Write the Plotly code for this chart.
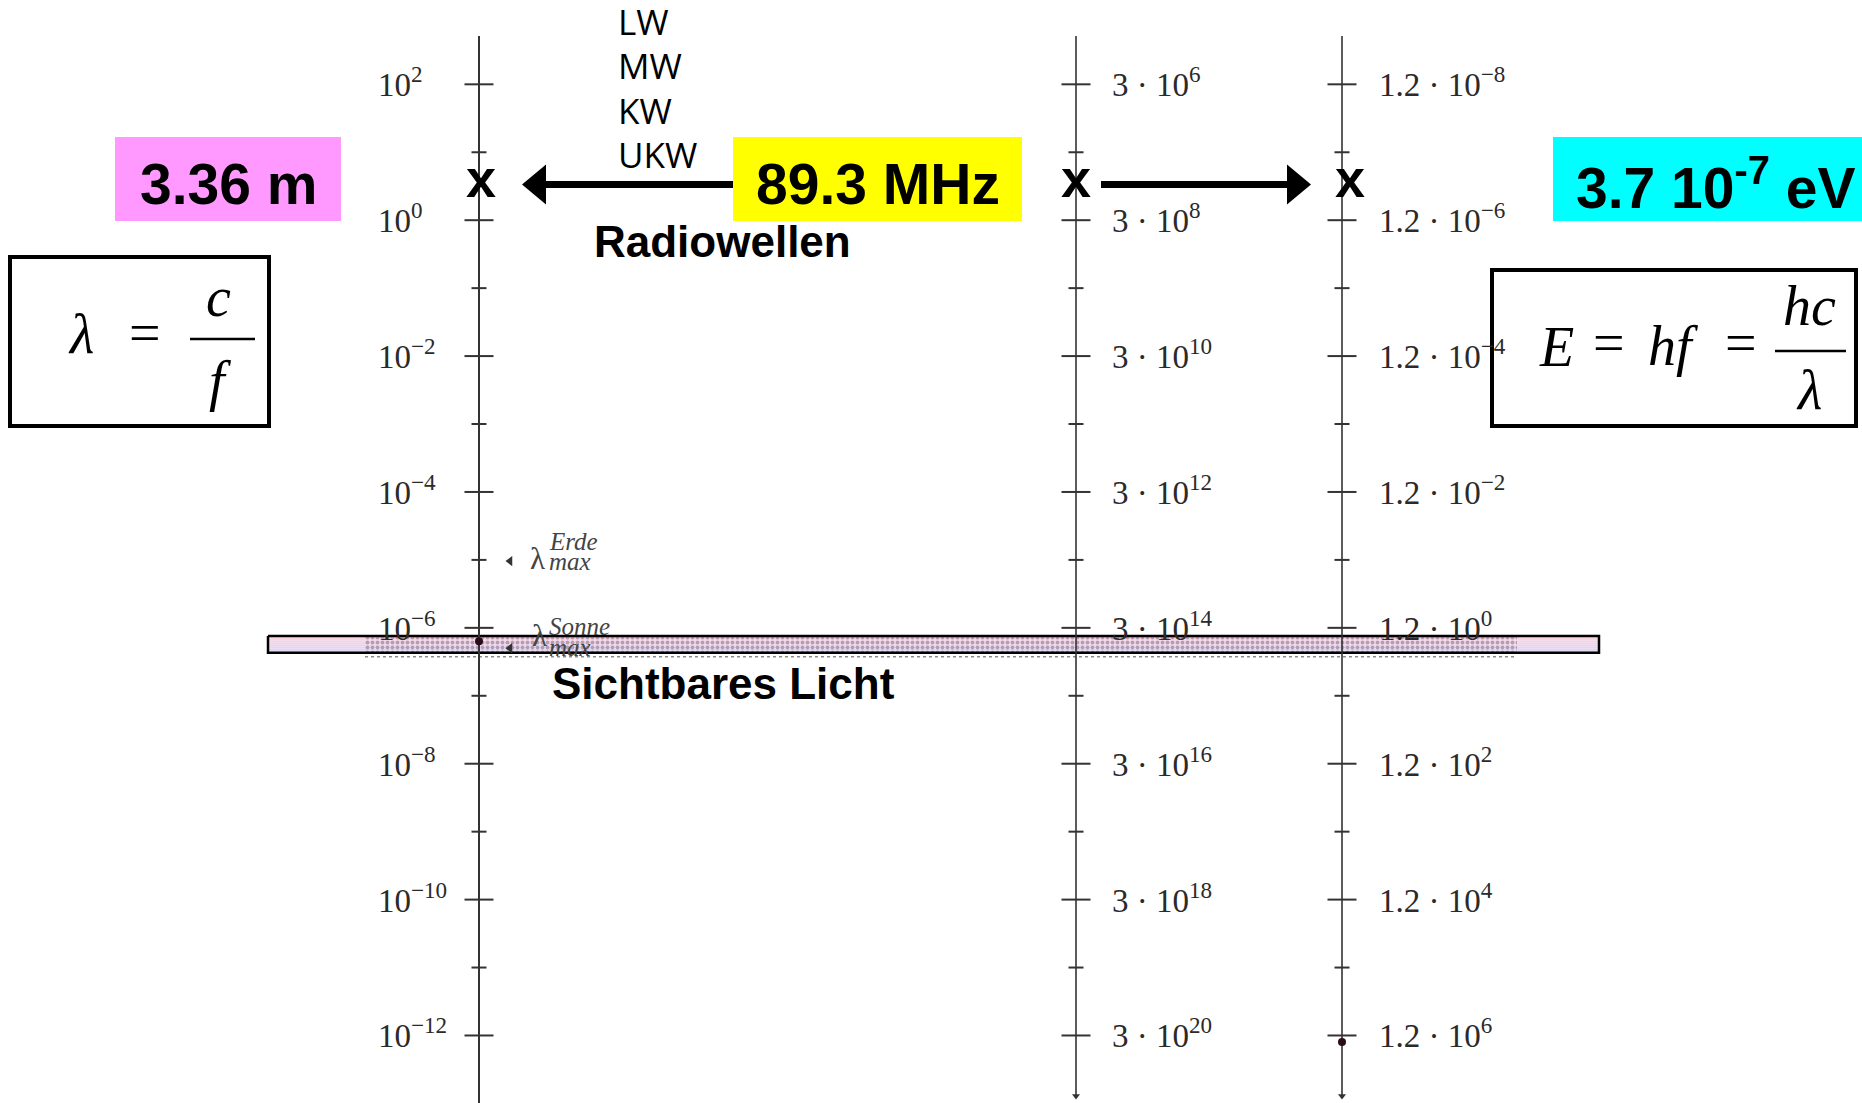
import math
import plotly.graph_objects as go

# ---------------------------------------------------------------------------
# Scale data: wavelength decades (m) with the matching frequency / energy
# ---------------------------------------------------------------------------
lambda_major_exp = [2, 0, -2, -4, -6, -8, -10, -12]
lambda_minor_exp = [1, -1, -3, -5, -7, -9, -11]
lambda_labels = ["10<sup>2</sup>", "10<sup>0</sup>", "10<sup>−2</sup>", "10<sup>−4</sup>",
                 "10<sup>−6</sup>", "10<sup>−8</sup>", "10<sup>−10</sup>", "10<sup>−12</sup>"]
freq_labels = ["3 · 10<sup>6</sup>", "3 · 10<sup>8</sup>", "3 · 10<sup>10</sup>", "3 · 10<sup>12</sup>",
               "3 · 10<sup>14</sup>", "3 · 10<sup>16</sup>", "3 · 10<sup>18</sup>", "3 · 10<sup>20</sup>"]
energy_labels = ["1.2 · 10<sup>−8</sup>", "1.2 · 10<sup>−6</sup>", "1.2 · 10<sup>−4</sup>",
                 "1.2 · 10<sup>−2</sup>", "1.2 · 10<sup>0</sup>", "1.2 · 10<sup>2</sup>",
                 "1.2 · 10<sup>4</sup>", "1.2 · 10<sup>6</sup>"]

radio_bands = ["LW", "MW", "KW", "UKW"]

# FM station example
fm_freq_mhz = 89.3
fm_wavelength_m = 3.36
fm_energy_ev = 3.7e-7

visible_m = [4.3e-7, 7.6e-7]      # visible light band
wien_earth_m = 9.6e-6             # λ_max of the Earth
wien_sun_m = 5.0e-7               # λ_max of the Sun
laser_m = 6.33e-7                 # point on the wavelength scale
gamma_ev = 1.5e6                  # point on the energy scale
HC_EV_M = 1.2e-6                  # energy scale: E = 1.2e-6 eV·m / λ

# ---------------------------------------------------------------------------
# Layout geometry (x in pixels, y in log10(λ / m))
# ---------------------------------------------------------------------------
W, H = 1862, 1103
PX_PER_DEC = 67.94
Y0_PX = 220.2                     # pixel row of λ = 1 m


def row(p):
    """pixel row -> y coordinate"""
    return (Y0_PX - p) / PX_PER_DEC


Y_RANGE = [row(H), row(0)]
AX_LAMBDA, AX_FREQ, AX_ENERGY = 479, 1076, 1342
AXIS_COLOR = "#333333"
SERIF = "Liberation Serif, Times New Roman, serif"
SANS = "Liberation Sans, Arial, sans-serif"

fig = go.Figure()
shapes = []
ann = []

# --- visible light band (drawn first, under the axes) ---
e_lo = math.log10(visible_m[0])
e_hi = math.log10(visible_m[1])
band_x0, band_x1 = 268, 1599
n_strips = 8
top_rgb = (255, 212, 226)
bot_rgb = (218, 212, 244)
for i in range(n_strips):
    t = i / (n_strips - 1)
    c = tuple(round(a + (b - a) * t) for a, b in zip(top_rgb, bot_rgb))
    y1 = e_hi - (e_hi - e_lo) * i / n_strips
    y0 = e_hi - (e_hi - e_lo) * (i + 1) / n_strips
    shapes.append(dict(type="rect", xref="x", yref="y", x0=band_x0, x1=band_x1, y0=y0, y1=y1,
                       fillcolor=f"rgb{c}", line=dict(width=0), layer="below"))

dot_x0, dot_x1 = 365, 1517
fig.add_trace(go.Scatter(
    x=[dot_x0, dot_x1, dot_x1, dot_x0, dot_x0], y=[e_hi, e_hi, e_lo, e_lo, e_hi],
    mode="lines", fill="toself", line=dict(width=0), fillcolor="rgba(0,0,0,0)",
    fillpattern=dict(shape=".", fgcolor="#7e5f78", bgcolor="rgba(0,0,0,0)", size=5, solidity=0.45),
    hoverinfo="skip"))
fig.add_trace(go.Scatter(
    x=[dot_x0, dot_x1], y=[e_lo - 4 / PX_PER_DEC] * 2, mode="lines",
    line=dict(color="#8a8a8a", width=1.5, dash="dot"), hoverinfo="skip"))
fig.add_trace(go.Scatter(
    x=[band_x0, band_x1, band_x1, band_x0, band_x0], y=[e_hi, e_hi, e_lo, e_lo, e_hi],
    mode="lines", line=dict(color="black", width=2.5), hoverinfo="skip"))

# --- the three vertical scales ---
axis_top = row(36)
fig.add_trace(go.Scatter(x=[AX_LAMBDA, AX_LAMBDA], y=[axis_top, Y_RANGE[0]], mode="lines",
                         line=dict(color=AXIS_COLOR, width=2), hoverinfo="skip"))
for ax in (AX_FREQ, AX_ENERGY):
    fig.add_trace(go.Scatter(x=[ax, ax], y=[axis_top, row(1096)], mode="lines",
                             line=dict(color=AXIS_COLOR, width=1.6), hoverinfo="skip"))
fig.add_trace(go.Scatter(x=[AX_FREQ, AX_ENERGY], y=[row(1096)] * 2, mode="markers",
                         marker=dict(symbol="triangle-down", size=7, color=AXIS_COLOR),
                         hoverinfo="skip"))


def tick_segments(ax, exps, half):
    xs, ys = [], []
    for e in exps:
        xs += [ax - half, ax + half, None]
        ys += [e, e, None]
    return xs, ys


for ax in (AX_LAMBDA, AX_FREQ, AX_ENERGY):
    xs, ys = tick_segments(ax, lambda_major_exp, 14.5)
    fig.add_trace(go.Scatter(x=xs, y=ys, mode="lines", line=dict(color=AXIS_COLOR, width=2),
                             hoverinfo="skip"))
    xs, ys = tick_segments(ax, lambda_minor_exp, 7.5)
    fig.add_trace(go.Scatter(x=xs, y=ys, mode="lines", line=dict(color=AXIS_COLOR, width=2),
                             hoverinfo="skip"))

tick_font = dict(family=SERIF, size=33, color="#2a2a2a")
for e, lam, fr, en in zip(lambda_major_exp, lambda_labels, freq_labels, energy_labels):
    ann.append(dict(x=376, y=e, text=lam, xanchor="left", yanchor="middle", yshift=2,
                    font=tick_font, showarrow=False))
    ann.append(dict(x=AX_FREQ + 34, y=e, text=fr, xanchor="left", yanchor="middle", yshift=2,
                    font=tick_font, showarrow=False))
    ann.append(dict(x=AX_ENERGY + 35, y=e, text=en, xanchor="left", yanchor="middle", yshift=2,
                    font=tick_font, showarrow=False))

# --- marked points on the scales ---
e_gamma = math.log10(HC_EV_M / gamma_ev)
fig.add_trace(go.Scatter(x=[AX_LAMBDA, AX_ENERGY], y=[math.log10(laser_m), e_gamma],
                         mode="markers", marker=dict(size=8, color="#2b0b18"), hoverinfo="skip"))

# λ_max of Earth and Sun
e_earth = math.log10(wien_earth_m)
e_sun = math.log10(wien_sun_m)
fig.add_trace(go.Scatter(x=[510, 510], y=[e_earth, e_sun], mode="markers",
                         marker=dict(symbol="triangle-left", size=9, color="#333333"),
                         hoverinfo="skip"))
lam_font = dict(family=SERIF, size=31, color="#444444")
idx_font = dict(family=SERIF, size=25, color="#444444")
# (value, label, x of λ, λ shift, upper index shift, lower index shift)
for e, name, xl, s_lam, s_up, s_low in ((e_earth, "Erde", 537, 3, 20, 0),
                                        (e_sun, "Sonne", 539, 13, 22, 1)):
    ann.append(dict(x=xl, y=e, text="λ", xanchor="center", yanchor="middle", yshift=s_lam,
                    font=lam_font, showarrow=False))
    ann.append(dict(x=547, y=e, text=f"<i>{name}</i>", xanchor="left", yanchor="middle",
                    yshift=s_up, font=idx_font, showarrow=False))
    ann.append(dict(x=547, y=e, text="<i>max</i>", xanchor="left", yanchor="middle",
                    yshift=s_low, font=idx_font, showarrow=False))

# --- FM example: value boxes, crosses and conversion arrows ---
e_fm = math.log10(fm_wavelength_m)
box_y0, box_y1 = row(221), row(137)
e_mant = fm_energy_ev / 10 ** math.floor(math.log10(fm_energy_ev))
e_exp = math.floor(math.log10(fm_energy_ev))
value_boxes = [
    (115, 341, "#FF99FF", f"{fm_wavelength_m:.2f} m"),
    (733, 1022, "#FFFF00", f"{fm_freq_mhz:g} MHz"),
    (1553, 1862, "#00FFFF", f"{e_mant:.1f} 10<sup>{e_exp}</sup> eV"),
]
for x0, x1, col, txt in value_boxes:
    shapes.append(dict(type="rect", xref="x", yref="y", x0=x0, x1=x1, y0=box_y0, y1=box_y1,
                       fillcolor=col, line=dict(width=0), layer="above"))
    ann.append(dict(x=(x0 + x1) / 2 + (8 if col == "#00FFFF" else 0), y=e_fm, text=f"<b>{txt}</b>",
                    xanchor="center", yanchor="middle", yshift=0,
                    font=dict(family=SANS, size=57, color="black"), showarrow=False))

for xm in (AX_LAMBDA + 2, AX_FREQ, AX_ENERGY + 8):
    ann.append(dict(x=xm, y=e_fm, text="<b>x</b>", xanchor="center", yanchor="middle", yshift=6,
                    font=dict(family=SANS, size=54, color="black"), showarrow=False))

dh = 20 / PX_PER_DEC
shapes.append(dict(type="line", xref="x", yref="y", x0=733, x1=543, y0=e_fm, y1=e_fm,
                   line=dict(color="black", width=7), layer="below"))
shapes.append(dict(type="path", xref="x", yref="y",
                   path=f"M 522,{e_fm} L 546,{e_fm + dh} L 546,{e_fm - dh} Z",
                   fillcolor="black", line=dict(width=0)))
shapes.append(dict(type="line", xref="x", yref="y", x0=1101, x1=1291, y0=e_fm, y1=e_fm,
                   line=dict(color="black", width=7)))
shapes.append(dict(type="path", xref="x", yref="y",
                   path=f"M 1311,{e_fm} L 1287,{e_fm + dh} L 1287,{e_fm - dh} Z",
                   fillcolor="black", line=dict(width=0)))

# radio band names
for i, band in enumerate(radio_bands):
    ann.append(dict(x=616, y=row(21 + 44.5 * i), text=band, xanchor="left", yanchor="middle",
                    font=dict(family="Open Sans, Liberation Sans, sans-serif", size=35, color="black"),
                    showarrow=False))

ann.append(dict(x=722, y=row(241), text="<b>Radiowellen</b>", xanchor="center", yanchor="middle",
                font=dict(family=SANS, size=44, color="black"), showarrow=False))
ann.append(dict(x=723, y=row(683), text="<b>Sichtbares Licht</b>", xanchor="center",
                yanchor="middle", font=dict(family=SANS, size=44, color="black"), showarrow=False))

# --- formula boxes ---
shapes.append(dict(type="rect", xref="x", yref="y", x0=10, x1=269, y0=row(426), y1=row(257),
                   fillcolor="white", line=dict(color="black", width=4)))
shapes.append(dict(type="rect", xref="x", yref="y", x0=1492, x1=1856, y0=row(426), y1=row(270),
                   fillcolor="white", line=dict(color="black", width=4)))

fml = dict(family=SERIF, size=56, color="black")


def put(x, p, text):
    ann.append(dict(x=x, y=row(p), text=text, xanchor="center", yanchor="middle",
                    font=fml, showarrow=False))


put(81, 334, "<i>λ</i>")
put(145, 333, "=")
put(218, 297, "<i>c</i>")
put(220, 381, "<i>f</i>")
shapes.append(dict(type="line", xref="x", yref="y", x0=190, x1=255, y0=row(339), y1=row(339),
                   line=dict(color="black", width=2.5)))

put(1556, 347, "<i>E</i>")
put(1609, 343, "=")
put(1673, 346, "<i>hf</i>")
put(1741, 343, "=")
put(1809, 306, "<i>hc</i>")
put(1809, 390, "<i>λ</i>")
shapes.append(dict(type="line", xref="x", yref="y", x0=1775, x1=1846, y0=row(351), y1=row(351),
                   line=dict(color="black", width=2.5)))

fig.update_layout(
    width=W, height=H, margin=dict(l=0, r=0, t=0, b=0),
    paper_bgcolor="white", plot_bgcolor="white", showlegend=False,
    xaxis=dict(range=[0, W], visible=False, fixedrange=True),
    yaxis=dict(range=Y_RANGE, visible=False, fixedrange=True),
    shapes=shapes, annotations=ann,
)

fig.write_html("out.html")
